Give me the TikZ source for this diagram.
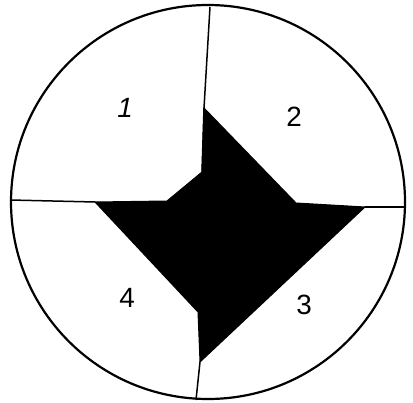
\documentclass[tikz,border=0pt]{standalone}
\usepackage{fontspec}
\setmainfont{Liberation Sans}
\begin{document}
\begin{tikzpicture}[x=1pt,y=-1pt,
  rim/.style={line width=2.2pt},
  divider/.style={line width=1.5pt},
  core/.style={fill=black,draw=black,line width=1pt,line join=miter},
  num/.style={inner sep=0pt,scale=1.12}]
\useasboundingbox (0,0) rectangle (413,403);
\coordinate (c) at (208,202);
\draw[rim] (c) circle[radius=197];
% black star core
\coordinate (pt) at (204,108);
\coordinate (pr) at (296,203);
\coordinate (pe) at (365,207);
\coordinate (pb) at (200,362);
\coordinate (pbi) at (198,312);
\coordinate (pw) at (95,202);
\coordinate (pwi) at (167,201);
\coordinate (pni) at (202,172);
\fill[core] (pt) -- (pr) -- (pe) -- (pb) -- (pbi) -- (pw) -- (pwi) -- (pni) -- cycle;
% dividing lines
\coordinate (topend) at (210,7);
\coordinate (leftend) at (10,200);
\coordinate (rightend) at (405,207);
\coordinate (botend) at (196,400);
\draw[divider] (topend) -- (pt) -- (pni);
\draw[divider] (leftend) -- (pw);
\draw[divider] (pe) -- (rightend);
\draw[divider] (pb) -- (botend);
% labels
\node[num] (n1) at (125,108) {\Huge\itshape 1};
\node[num] (n2) at (294,117) {\Huge 2};
\node[num] (n3) at (304,305) {\Huge 3};
\node[num] (n4) at (127,298) {\Huge 4};
\end{tikzpicture}
\end{document}
